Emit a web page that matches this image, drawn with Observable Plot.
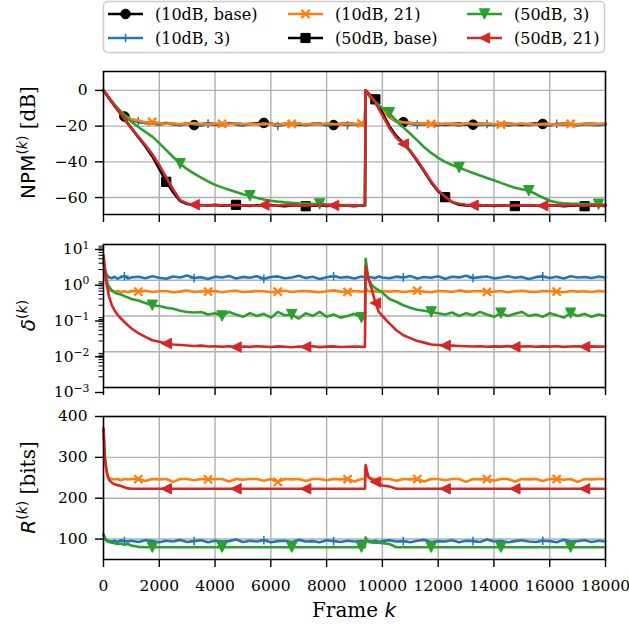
<!DOCTYPE html>
<html><head><meta charset="utf-8">
<script src="https://cdn.jsdelivr.net/npm/d3@7"></script>
<script src="https://cdn.jsdelivr.net/npm/@observablehq/plot@0.6"></script>
<style>
body{margin:0;background:#fff;}
#root{position:relative;width:629px;height:626px;overflow:hidden;font-family:"DejaVu Serif";background:#fff;}
#root svg{position:absolute;left:0;}
</style></head><body><div id="root"></div>
<script>
// ---------- data ----------
const frames = [0,50,100,150,200,300,400,500,625,750,875,1000,
1250,1500,1750,2000,2250,2500,2750,3000,3250,3500,3750,4000,4250,4500,4750,5000,5250,5500,5750,6000,6250,6500,6750,7000,7250,7500,7750,8000,8250,8500,8750,9000,9250,
9375,9400,9450,9500,9625,9750,9875,10000,
10250,10500,10750,11000,11250,11500,11750,12000,12250,12500,12750,13000,13250,13500,13750,14000,14250,14500,14750,15000,15250,15500,15750,16000,16250,16500,16750,17000,17250,17500,17750,18000];

const seriesNames = ["(10dB, base)","(10dB, 3)","(10dB, 21)","(50dB, base)","(50dB, 3)","(50dB, 21)"];
const xTicks = [0,2000,4000,6000,8000,10000,12000,14000,16000,18000];
const npmTicks = [-60,-40,-20,0];
const deltaTicks = [1e-3,1e-2,1e-1,1,10];
const rateTicks = [100,200,300,400];

// NPM [dB]
const npm10base = [0,-1.1,-2.2,-3.3,-4.4,-6.5,-8.5,-10.3,-12.3,-14.6,-15.8,-16.6,
-17.6,-18.1,-18.4,-18.6,-18.3,-18.9,-19.1,-18.7,-19.4,-18.9,-18.6,-19.0,-19.2,-18.6,-18.5,-19.0,-18.8,-18.4,-18.2,-18.7,-19.1,-18.9,-18.5,-19.0,-19.3,-18.7,-18.8,-19.1,-19.4,-18.9,-18.6,-18.9,-19.1,
-18.9,0,-1.2,-2.4,-5,-7.2,-9,-10.7,
-15,-17.3,-17.8,-18.3,-18.6,-18.9,-18.5,-19.0,-19.3,-18.8,-18.6,-19.1,-19.2,-18.7,-18.9,-19.3,-18.8,-18.6,-19.0,-19.4,-18.9,-18.5,-18.8,-19.2,-19.0,-18.6,-18.9,-19.3,-18.8,-18.7,-19.0,-18.9];
const npm10k3 = [0,-1.0,-2.1,-3.2,-4.3,-6.3,-8.3,-10.1,-12.1,-13.8,-15.2,-16.2,
-17.3,-18.4,-18.0,-19.2,-18.5,-18.7,-19.6,-18.4,-19.0,-19.8,-18.6,-18.9,-19.5,-18.3,-19.1,-19.7,-18.6,-18.8,-19.4,-18.5,-19.9,-18.7,-19.2,-18.6,-19.5,-18.9,-18.4,-19.6,-19.0,-18.7,-19.5,-18.8,-19.3,
-19.0,0,-1.1,-2.3,-4.9,-7.0,-8.9,-10.5,
-14.8,-17.0,-18.0,-18.6,-19.3,-18.5,-19.1,-19.6,-18.7,-19.0,-19.8,-18.6,-19.2,-19.5,-18.8,-19.4,-18.6,-19.7,-19.1,-18.8,-19.5,-18.9,-19.3,-19.8,-18.7,-19.2,-19.0,-19.6,-18.8,-19.3,-19.5,-18.9];
const npm10k21 = [0,-1.0,-2.1,-3.2,-4.3,-6.4,-8.4,-10.2,-12.2,-13.9,-15.3,-16.2,
-16.9,-17.8,-17.6,-18.3,-18.7,-18.4,-18.9,-18.6,-18.3,-18.8,-19.0,-18.5,-18.7,-19.1,-18.4,-18.8,-18.6,-19.0,-18.5,-18.9,-19.2,-18.6,-18.8,-18.5,-19.1,-18.7,-18.9,-18.4,-18.8,-19.0,-18.6,-18.9,-18.5,
-18.7,0,-1.2,-2.4,-5.0,-7.2,-9.0,-10.6,
-15.0,-17.2,-17.8,-18.2,-18.6,-18.4,-18.8,-18.5,-18.9,-18.6,-19.0,-18.4,-18.7,-18.9,-18.5,-18.8,-19.1,-18.6,-18.9,-18.5,-18.8,-19.2,-18.7,-18.9,-19.3,-18.6,-18.8,-19.0,-18.5,-18.9,-18.7,-18.6];
const npm50base = [0,-1.1,-2.2,-3.3,-4.4,-6.6,-8.7,-10.8,-13.4,-16.0,-18.6,-21.2,
-26.2,-31.3,-37.0,-44.0,-51.2,-57.2,-62.0,-63.6,-64.1,-64.3,-64.5,-64.2,-64.6,-64.4,-64.1,-64.5,-64.7,-64.3,-64.5,-64.2,-64.6,-64.8,-64.4,-64.5,-64.9,-64.6,-64.4,-64.7,-64.5,-64.3,-64.6,-64.8,-64.5,
-64.6,0,-0.8,-1.7,-3.3,-5.0,-8.5,-12.5,
-20.0,-25.5,-29.5,-34.0,-39.5,-45.5,-51.5,-56.5,-59.8,-62.5,-64.0,-64.4,-64.6,-64.3,-64.5,-64.7,-64.4,-64.6,-64.8,-64.5,-64.3,-64.6,-64.7,-64.4,-64.5,-64.8,-64.6,-64.4,-64.9,-64.5,-64.6,-64.7];
const npm50k3 = [0,-1.0,-2.1,-3.1,-4.1,-6.1,-8.0,-9.8,-12.0,-14.0,-15.8,-17.5,
-20.5,-23.2,-25.9,-29.5,-33.4,-37.3,-41.0,-44.1,-46.6,-48.8,-51.0,-52.9,-54.3,-55.6,-56.9,-58.1,-59.0,-60.2,-61.1,-61.8,-62.3,-62.7,-63.0,-63.2,-63.3,-63.5,-63.6,-63.8,-63.9,-64.1,-64.2,-64.3,-64.4,
-64.5,0,-0.9,-1.9,-4.2,-6.4,-8.3,-9.8,
-12.5,-17.0,-20.7,-24.3,-28.0,-31.8,-35.0,-37.8,-40.0,-41.8,-43.2,-44.8,-46.3,-47.7,-49.0,-50.3,-51.8,-53.2,-54.5,-55.3,-56.2,-58.0,-60.0,-61.8,-62.8,-63.2,-63.4,-63.5,-63.7,-63.6,-63.8,-64.0];
const npm50k21 = [0,-1.1,-2.2,-3.3,-4.4,-6.5,-8.6,-10.7,-13.2,-15.8,-18.4,-21.0,
-25.8,-30.6,-35.8,-41.7,-48.7,-55.5,-61.5,-63.3,-64.0,-64.2,-64.4,-64.1,-64.3,-64.5,-64.2,-64.4,-64.3,-64.6,-64.2,-64.4,-64.5,-64.3,-64.1,-64.4,-64.6,-64.3,-64.2,-64.5,-64.4,-64.3,-64.6,-64.4,-64.5,
-64.5,0,-0.8,-1.8,-4.2,-7.0,-10.5,-14.0,
-21.0,-26.5,-30.0,-34.0,-39.0,-45.0,-51.0,-56.0,-59.5,-62.5,-63.5,-64.0,-64.3,-64.2,-64.5,-64.3,-64.4,-64.6,-64.3,-64.5,-64.2,-64.4,-64.6,-64.3,-64.5,-64.4,-64.2,-64.5,-64.6,-64.3,-64.4,-64.5];

// delta (log)
const delta10k3 = [3.2,2.0,1.5,1.3,1.2,1.15,1.25,1.1,1.22,1.3,1.12,1.2,
1.25,1.14,1.3,1.18,1.1,1.28,1.2,1.35,1.15,1.22,1.08,1.26,1.19,1.32,1.12,1.24,1.17,1.3,1.1,1.23,1.28,1.14,1.2,1.33,1.16,1.25,1.09,1.21,1.3,1.18,1.24,1.12,1.27,
1.2,1.6,1.35,1.25,1.2,1.15,1.28,1.2,
1.14,1.26,1.2,1.31,1.12,1.23,1.18,1.29,1.1,1.25,1.2,1.34,1.15,1.22,1.27,1.13,1.2,1.3,1.17,1.24,1.08,1.22,1.28,1.16,1.25,1.12,1.3,1.19,1.23,1.15,1.26,1.2];
const delta10k21 = [3.6,1.6,0.85,0.62,0.53,0.5,0.48,0.5,0.47,0.49,0.46,0.5,
0.48,0.51,0.47,0.49,0.5,0.46,0.48,0.52,0.47,0.49,0.48,0.5,0.46,0.49,0.51,0.47,0.48,0.5,0.49,0.46,0.48,0.51,0.47,0.49,0.5,0.48,0.46,0.49,0.52,0.48,0.47,0.5,0.48,
0.49,0.62,0.52,0.5,0.48,0.49,0.47,0.5,
0.48,0.5,0.47,0.49,0.51,0.48,0.46,0.5,0.49,0.47,0.52,0.48,0.49,0.5,0.47,0.48,0.5,0.46,0.49,0.51,0.48,0.47,0.5,0.49,0.48,0.46,0.5,0.48,0.49,0.47,0.5,0.48];
const delta50k3 = [3.5,1.8,1.1,0.8,0.65,0.52,0.46,0.42,0.4,0.36,0.33,0.3,
0.27,0.23,0.2,0.19,0.17,0.16,0.14,0.13,0.125,0.13,0.11,0.12,0.1,0.13,0.11,0.095,0.12,0.1,0.115,0.09,0.13,0.105,0.11,0.085,0.12,0.1,0.13,0.095,0.11,0.09,0.1,0.115,0.09,
0.085,4.0,2.0,1.1,0.72,0.6,0.52,0.45,
0.3,0.25,0.2,0.17,0.15,0.14,0.13,0.12,0.11,0.125,0.1,0.12,0.105,0.13,0.11,0.095,0.12,0.1,0.115,0.13,0.1,0.11,0.095,0.12,0.105,0.09,0.12,0.1,0.115,0.095,0.11,0.1];
const delta50k21 = [5.0,2.2,0.95,0.55,0.35,0.2,0.14,0.11,0.085,0.068,0.055,0.045,
0.033,0.026,0.021,0.019,0.017,0.016,0.0155,0.015,0.0145,0.0148,0.014,0.0143,0.0138,0.0142,0.0135,0.014,0.0137,0.0143,0.0139,0.0136,0.0141,0.0138,0.0134,0.014,0.0137,0.0142,0.0135,0.0139,0.0141,0.0136,0.0138,0.014,0.0137,
0.0138,2.5,1.6,1.1,0.55,0.23,0.13,0.1,
0.062,0.04,0.029,0.024,0.02,0.018,0.016,0.0155,0.015,0.0148,0.0145,0.0142,0.014,0.0143,0.0138,0.0141,0.0139,0.0144,0.0137,0.014,0.0142,0.0138,0.0141,0.0139,0.0143,0.0137,0.014,0.0142,0.0138,0.0141,0.0139,0.014];

// R [bits]
const rate10k3 = [112,103,98,96,95,94,96,93,97,95,94,96,
93,97,95,92,96,94,98,93,95,97,92,96,94,95,99,93,96,94,97,92,95,96,93,98,94,95,92,97,95,93,96,94,95,
94,97,96,95,94,96,93,95,
97,94,95,92,96,98,93,95,94,97,92,96,95,93,99,94,96,92,95,97,94,93,96,95,92,98,94,95,97,93,96,94];
const rate10k21 = [372,300,268,253,249,247,246,247,244,247,246,247,
247,242,247,246,247,240,247,247,244,247,246,247,247,241,247,245,247,247,243,247,240,247,246,247,242,247,247,244,247,246,247,241,247,
247,282,262,252,248,247,245,247,
247,243,247,246,247,241,247,247,244,247,247,240,247,246,247,243,247,247,241,247,246,247,242,247,247,245,247,240,247,246,247,247];
const rate50k3 = [110,100,96,94,93,91,90,88,89,86,88,84,
81,80,80,80,80,80,80,80,80,80,80,80,80,80,80,80,80,80,80,80,80,80,80,80,80,80,80,80,80,80,80,80,80,
80,104,97,93,92,91,91,90,
88,80,80,80,80,80,80,80,80,80,80,80,80,80,80,80,80,80,80,80,80,80,80,80,80,80,80,80,80,80,80,80];
const rate50k21 = [370,300,272,255,245,238,234,232,230,227,224,223,
223,223,223,223,223,223,223,223,223,223,223,223,223,223,223,223,223,223,223,223,223,223,223,223,223,223,223,223,223,223,223,223,223,
223,280,265,252,245,240,236,231,
229,223,223,223,223,223,223,223,223,223,223,223,223,223,223,223,223,223,223,223,223,223,223,223,223,223,223,223,223,223,223,223];

// marker frames (markevery)
const mk0 = [750,3250,5750,8250,10750,13250,15750];
const mk1 = [1250,3750,6250,8750,11250,13750,16250];
const mk2 = [1750,4250,6750,9250,11750,14250,16750];
const mk3 = [2250,4750,7250,9750,12250,14750,17250];
const mk4 = [2750,5250,7750,10250,12750,15250,17750];
const mk5 = [3250,5750,8250,10750,13250,15750];

// ---------- styling ----------
const COL = {blue:"#1f77b4", orange:"#ff7f0e", green:"#2ca02c", red:"#d62728", black:"#000000"};
const rad = s => Math.sqrt(s/Math.PI);
const SYM = {
  square:{draw(c,s){const r=rad(s);c.moveTo(-r,-r);c.lineTo(r,-r);c.lineTo(r,r);c.lineTo(-r,r);c.closePath();}},
  triDown:{draw(c,s){const r=rad(s);c.moveTo(0,r);c.lineTo(-r,-r);c.lineTo(r,-r);c.closePath();}},
  triLeft:{draw(c,s){const r=rad(s);c.moveTo(-r,0);c.lineTo(r,-r);c.lineTo(r,r);c.closePath();}},
  times:{draw(c,s){const r=rad(s);c.moveTo(-r,-r);c.lineTo(r,r);c.moveTo(r,-r);c.lineTo(-r,r);}},
  plus:{draw(c,s){const r=rad(s);c.moveTo(-r,0);c.lineTo(r,0);c.moveTo(0,-r);c.lineTo(0,r);}}
};
const MK = {
  circle:{symbol:"circle", r:4.8, filled:true, sw:1},
  square:{symbol:SYM.square, r:4.6, filled:true, sw:1},
  triDown:{symbol:SYM.triDown, r:5.2, filled:true, sw:1},
  triLeft:{symbol:SYM.triLeft, r:5.2, filled:true, sw:1},
  times:{symbol:SYM.times, r:4.1, filled:false, sw:2.2},
  plus:{symbol:SYM.plus, r:4.3, filled:false, sw:1.5}
};

function rowsOf(arr){ return frames.map((f,i)=>({frame:f, value:arr[i]})); }
function series(arr, color, mkKind, mk){
  const rows = rowsOf(arr);
  const m = MK[mkKind];
  return [
    Plot.line(rows, {x:"frame", y:"value", stroke:color, strokeWidth:2.6, strokeLinejoin:"round"}),
    Plot.dot(rows.filter(d=>mk.includes(d.frame)), {x:"frame", y:"value", symbol:m.symbol, r:m.r,
      fill: m.filled ? color : "none", stroke:color, strokeWidth:m.sw})
  ];
}
const gridStyle = {stroke:"#b0b0b0", strokeOpacity:1, strokeWidth:1.4};
const baseStyle = {fontFamily:"DejaVu Serif", fontSize:"15.5px", color:"#000", background:"transparent", overflow:"visible"};
const xCommon = {width:629, marginLeft:103, marginRight:24};

const root = document.getElementById("root");

// ---------- panel 1: NPM ----------
const p1 = Plot.plot({
  ...xCommon, height:170, marginTop:11, marginBottom:16,
  x:{domain:[0,18000]}, y:{domain:[-69.5,10.6]},
  style:baseStyle,
  marks:[
    Plot.gridX(xTicks, gridStyle),
    Plot.gridY(npmTicks, gridStyle),
    ...series(npm10base, COL.black, "circle", mk0),
    ...series(npm10k3, COL.blue, "plus", mk1),
    ...series(npm10k21, COL.orange, "times", mk2),
    ...series(npm50base, COL.black, "square", mk3),
    ...series(npm50k3, COL.green, "triDown", mk4),
    ...series(npm50k21, COL.red, "triLeft", mk5),
    Plot.frame({stroke:"#000", strokeWidth:1.5}),
    Plot.axisX(xTicks, {tickSize:8, strokeWidth:1.4, fill:"none", label:null}),
    Plot.axisY(npmTicks, {tickSize:8, strokeWidth:1.4, tickPadding:8, label:null,
      tickFormat:d => (d<0?"\u2212":"") + Math.abs(d)})
  ]
});
p1.style.top = "60px";
root.appendChild(p1);

// ---------- panel 2: delta ----------
const minorDelta = [];
for (let e=-3; e<1; e++) for (let m=2; m<10; m++) minorDelta.push(m*Math.pow(10,e));
const p2 = Plot.plot({
  ...xCommon, height:172, marginTop:15, marginBottom:14,
  x:{domain:[0,18000]}, y:{type:"log", domain:[1e-3,10]},
  style:baseStyle,
  marks:[
    Plot.gridX(xTicks, gridStyle),
    Plot.gridY(deltaTicks, gridStyle),
    ...series(delta10k3, COL.blue, "plus", mk0),
    ...series(delta10k21, COL.orange, "times", mk1),
    ...series(delta50k3, COL.green, "triDown", mk2),
    ...series(delta50k21, COL.red, "triLeft", mk3),
    Plot.frame({stroke:"#000", strokeWidth:1.5}),
    Plot.axisX(xTicks, {tickSize:8, strokeWidth:1.4, fill:"none", label:null}),
    Plot.axisY(minorDelta, {tickSize:4.5, strokeWidth:1, fill:"none", label:null}),
    Plot.axisY(deltaTicks, {tickSize:8, strokeWidth:1.4, tickPadding:6, dy:5, label:null,
      tickFormat:d => "10^" + Math.round(Math.log10(d))})
  ]
});
p2.style.top = "229px";
root.appendChild(p2);
d3.select(p2).selectAll('g[aria-label="y-axis tick label"] text').each(function(){
  const s = this.textContent;
  if (!s.startsWith("10^")) return;
  const e = s.slice(3).replace("-", "\u2212");
  const t = d3.select(this); t.text(null);
  t.append("tspan").text("10");
  t.append("tspan").attr("dy","-0.55em").attr("font-size","0.7em").text(e);
});

// ---------- panel 3: R ----------
const p3 = Plot.plot({
  ...xCommon, height:225, marginTop:15, marginBottom:67,
  x:{domain:[0,18000]}, y:{domain:[50,400]},
  style:baseStyle,
  marks:[
    Plot.gridX(xTicks, gridStyle),
    Plot.gridY(rateTicks, gridStyle),
    ...series(rate10k3, COL.blue, "plus", mk0),
    ...series(rate10k21, COL.orange, "times", mk1),
    ...series(rate50k3, COL.green, "triDown", mk2),
    ...series(rate50k21, COL.red, "triLeft", mk3),
    Plot.frame({stroke:"#000", strokeWidth:1.5}),
    Plot.axisX(xTicks, {tickSize:8, strokeWidth:1.4, tickPadding:12, label:null, tickFormat:d => String(d)}),
    Plot.axisY(rateTicks, {tickSize:8, strokeWidth:1.4, tickPadding:8, label:null, tickFormat:d => String(d)})
  ]
});
p3.style.top = "401px";
root.appendChild(p3);

// ---------- axis titles ----------
function yLabel(svg, cy, parts){
  const t = d3.select(svg).append("text")
    .attr("transform", `translate(35,${cy}) rotate(-90)`)
    .attr("text-anchor","middle").attr("font-size","20px").attr("fill","#000");
  let raised = false;
  for (const p of parts){
    const ts = t.append("tspan").text(p.t)
      .attr("font-family", p.sans ? "DejaVu Sans" : "DejaVu Serif");
    if (p.it) ts.attr("font-style","italic");
    if (p.sup){ ts.attr("font-size","14px"); if(!raised){ ts.attr("dy",-8.5); raised=true; } }
    else if (raised){ ts.attr("dy",8.5); raised=false; }
  }
}
yLabel(p1, 82.5, [{t:"NPM",sans:true},{t:"(",sans:true,sup:true},{t:"k",sans:true,it:true,sup:true},{t:")",sans:true,sup:true},{t:" [dB]"}]);
yLabel(p2, 86.5, [{t:"\u03b4",sans:true,it:true},{t:"(",sans:true,sup:true},{t:"k",sans:true,it:true,sup:true},{t:")",sans:true,sup:true}]);
yLabel(p3, 86.5, [{t:"R",sans:true,it:true},{t:"(",sans:true,sup:true},{t:"k",sans:true,it:true,sup:true},{t:")",sans:true,sup:true},{t:" [bits]"}]);

const xl = d3.select(p3).append("text").attr("x",354).attr("y",216)
  .attr("text-anchor","middle").attr("font-size","20px").attr("fill","#000");
xl.append("tspan").attr("font-family","DejaVu Serif").text("Frame ");
xl.append("tspan").attr("font-family","DejaVu Sans").attr("font-style","italic").text("k");

// ---------- legend ----------
const legendItems = [
  {name:seriesNames[0], color:COL.black, mk:"circle", col:0, row:0},
  {name:seriesNames[1], color:COL.blue, mk:"plus", col:0, row:1},
  {name:seriesNames[2], color:COL.orange, mk:"times", col:1, row:0},
  {name:seriesNames[3], color:COL.black, mk:"square", col:1, row:1},
  {name:seriesNames[4], color:COL.green, mk:"triDown", col:2, row:0},
  {name:seriesNames[5], color:COL.red, mk:"triLeft", col:2, row:1}
];
const colX = [108, 288, 467], rowY = [14, 38];
const lg = d3.select(root).append("svg").attr("width",629).attr("height",56).style("top","0px");
lg.append("rect").attr("x",103.5).attr("y",1.5).attr("width",501).attr("height",51).attr("rx",4)
  .attr("fill","#fff").attr("fill-opacity",0.8).attr("stroke","#cccccc").attr("stroke-width",1.5);
for (const it of legendItems){
  const x0 = colX[it.col], y0 = rowY[it.row], cx = x0 + 17.5;
  lg.append("line").attr("x1",x0).attr("x2",x0+35).attr("y1",y0).attr("y2",y0)
    .attr("stroke",it.color).attr("stroke-width",2.6);
  const m = MK[it.mk];
  if (m.symbol === "circle"){
    lg.append("circle").attr("cx",cx).attr("cy",y0).attr("r",m.r).attr("fill",it.color).attr("stroke",it.color);
  } else {
    const p = d3.path(); m.symbol.draw(p, m.r*m.r*Math.PI);
    lg.append("path").attr("d",p.toString()).attr("transform",`translate(${cx},${y0})`)
      .attr("fill", m.filled ? it.color : "none").attr("stroke",it.color).attr("stroke-width",m.sw);
  }
  lg.append("text").attr("x",x0+47).attr("y",y0).attr("dy","0.35em")
    .attr("font-family","DejaVu Serif").attr("font-size","16px").attr("fill","#000").text(it.name);
}
</script></body></html>
